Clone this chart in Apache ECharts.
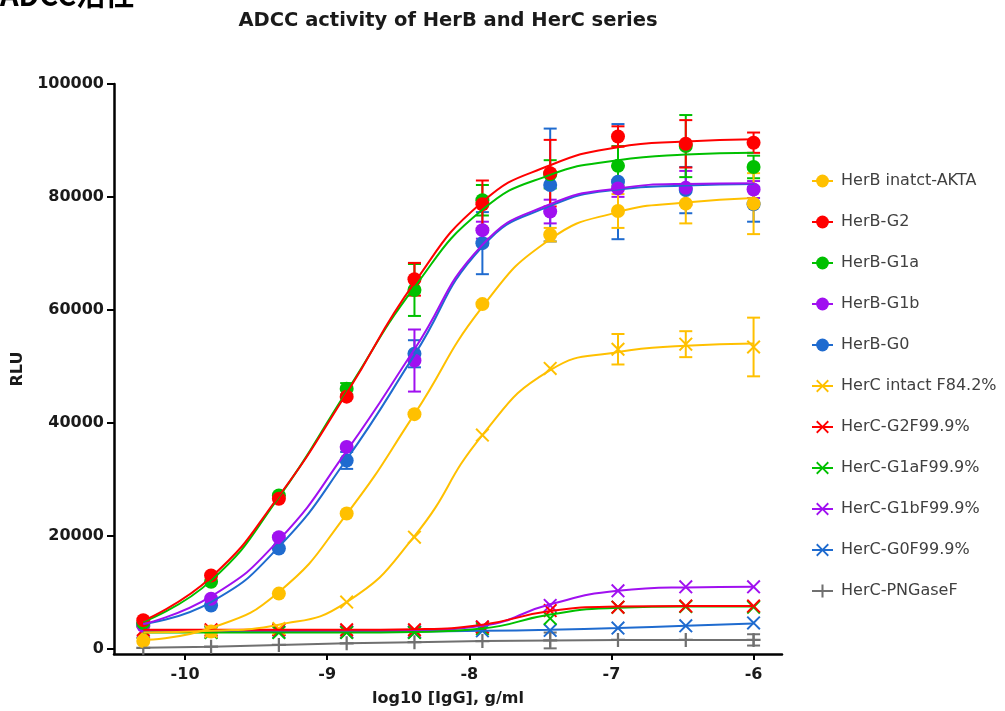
<!DOCTYPE html>
<html>
<head>
<meta charset="utf-8">
<title>ADCC activity of HerB and HerC series</title>
<script src="https://cdn.jsdelivr.net/npm/echarts@6.0.0/dist/echarts.min.js"></script>
<style>
html,body{margin:0;padding:0;background:#fff;}
#main{width:1005px;height:711px;}
</style>
</head>
<body>
<div id="main"></div>
<script>
// log10 of IgG concentration, g/ml (3-fold dilutions)
let logConc = [-10.294, -9.817, -9.340, -8.863, -8.386, -7.908, -7.431, -6.954, -6.477, -6.000];
let xTicks = [-10, -9, -8, -7, -6];
let yTicks = [0, 20000, 40000, 60000, 80000, 100000];

let names = ['HerB inatct-AKTA', 'HerB-G2', 'HerB-G1a', 'HerB-G1b', 'HerB-G0',
    'HerC intact F84.2%', 'HerC-G2F99.9%', 'HerC-G1aF99.9%', 'HerC-G1bF99.9%', 'HerC-G0F99.9%', 'HerC-PNGaseF'];
let colors = ['#FFC000', '#FF0000', '#00C000', '#A010F0', '#1F6BCF',
    '#FFC000', '#FF0000', '#00C000', '#A010F0', '#1F6BCF', '#707070'];
let markers = ['circle', 'circle', 'circle', 'circle', 'circle',
    'cross', 'cross', 'cross', 'cross', 'cross', 'plus'];

// mean RLU
let herbIntact = [1300, 3000, 9700, 23900, 41500, 61000, 73300, 77500, 78800, 78800];
let herbG2     = [5000, 12900, 26500, 44600, 65400, 78700, 84200, 90700, 89400, 89600];
let herbG1a    = [4500, 11800, 27100, 46000, 63500, 79400, 84000, 85500, 89000, 85300];
let herbG1b    = [4000, 8800, 19700, 35700, 51000, 74100, 77400, 81500, 81600, 81300];
let herbG0     = [4300, 7600, 17700, 33300, 52200, 71800, 82100, 82700, 81200, 78700];
let hercIntact = [2800, 3000, 3500, 8200, 19700, 37800, 49600, 53000, 53900, 53400];
let hercG2F    = [3300, 3300, 3300, 3300, 3300, 3800, 6700, 7300, 7500, 7500];
let hercG1aF   = [2800, 2800, 2800, 2800, 2800, 3500, 5300, 7300, 7400, 7300];
let hercG1bF   = [3000, 3000, 3300, 2900, 2900, 3800, 7600, 10200, 10900, 10900];
let hercG0F    = [2900, 2900, 2900, 2900, 2900, 3100, 3200, 3600, 4000, 4500];
let hercPNG    = [100, 300, 600, 900, 1100, 1300, 1400, 1500, 1500, 1500];

// error (SD) of each point, 0 = not drawn
let errHerbIntact = [0, 0, 0, 0, 0, 0, 1200, 3000, 3500, 5400];
let errHerbG2     = [0, 0, 0, 0, 2900, 4200, 5900, 1800, 4200, 1800];
let errHerbG1a    = [0, 0, 0, 1000, 4600, 2700, 2500, 3500, 5500, 2000];
let errHerbG1b    = [0, 0, 0, 0, 5500, 1500, 2100, 1500, 3000, 1500];
let errHerbG0     = [0, 0, 0, 1500, 2400, 5500, 10000, 10200, 4100, 3100];
let errHercIntact = [0, 0, 0, 0, 0, 0, 0, 2700, 2300, 5200];
let errHercPNG    = [0, 0, 0, 0, 0, 0, 1400, 0, 0, 1000];
let noErr         = [0, 0, 0, 0, 0, 0, 0, 0, 0, 0];

// fitted curve read at each concentration
let fitHerbIntact = [1500, 3600, 10000, 23800, 41500, 60500, 72500, 77300, 79000, 79800];
let fitHerbG2     = [4900, 12600, 27000, 45200, 64800, 79100, 85600, 88800, 89800, 90200];
let fitHerbG1a    = [4700, 12000, 26800, 45500, 64000, 77700, 83900, 86500, 87500, 87800];
let fitHerbG1b    = [4300, 9200, 19200, 35000, 53000, 71500, 78700, 81500, 82300, 82400];
let fitHerbG0     = [4300, 8200, 18000, 33500, 52000, 71200, 78400, 81300, 82000, 82300];
let fitHercIntact = [2800, 3100, 4200, 8200, 19900, 37800, 49300, 52500, 53600, 54000];
let fitHercG2F    = [3300, 3300, 3300, 3300, 3400, 4200, 6600, 7400, 7500, 7500];
let fitHercG1aF   = [2800, 2800, 2800, 2800, 2900, 3500, 6000, 7200, 7400, 7400];
let fitHercG1bF   = [3100, 3100, 3100, 3100, 3200, 4000, 7800, 10200, 10800, 10900];
let fitHercG0F    = [2900, 2900, 2900, 2950, 3000, 3100, 3300, 3600, 4000, 4400];

let means = [herbIntact, herbG2, herbG1a, herbG1b, herbG0, hercIntact, hercG2F, hercG1aF, hercG1bF, hercG0F, hercPNG];
let errs = [errHerbIntact, errHerbG2, errHerbG1a, errHerbG1b, errHerbG0, errHercIntact, noErr, noErr, noErr, noErr, errHercPNG];
let fits = [fitHerbIntact, fitHerbG2, fitHerbG1a, fitHerbG1b, fitHerbG0, fitHercIntact, fitHercG2F, fitHercG1aF, fitHercG1bF, fitHercG0F, hercPNG];

let symbolPaths = {
    circle: 'circle',
    cross: 'path://M1,0L5,4L9,0L10,1L6,5L10,9L9,10L5,6L1,10L0,9L4,5L0,1Z',
    plus: 'path://M4.2,0L5.8,0L5.8,4.2L10,4.2L10,5.8L5.8,5.8L5.8,10L4.2,10L4.2,5.8L0,5.8L0,4.2L4.2,4.2Z'
};

let font = '"DejaVu Sans", Verdana, sans-serif';

let myChart = echarts.init(document.getElementById('main'));

let series = [];
// first data set is drawn on top, so push in reverse
for (let i = names.length - 1; i >= 0; i--) {
    let color = colors[i];
    let sym = symbolPaths[markers[i]];
    series.push({
        name: names[i],
        type: 'line',
        data: logConc.map((x, k) => [x, fits[i][k]]),
        smooth: i === 10 ? false : 0.5,
        showSymbol: false,
        symbol: sym,
        symbolSize: 13,
        lineStyle: {color: color, width: 2},
        itemStyle: {color: color},
        silent: true
    });
    series.push({
        name: names[i],
        type: 'custom',
        data: logConc.map((x, k) => [x, means[i][k], errs[i][k]]),
        encode: {x: 0, y: 1},
        silent: true,
        renderItem: function (params, api) {
            let e = api.value(2);
            if (!e) return;
            let top = api.coord([api.value(0), api.value(1) + e]);
            let bot = api.coord([api.value(0), api.value(1) - e]);
            let w = 6.5;
            let style = {stroke: color, lineWidth: 2};
            return {
                type: 'group',
                children: [
                    {type: 'line', shape: {x1: top[0], y1: top[1], x2: bot[0], y2: bot[1]}, style: style},
                    {type: 'line', shape: {x1: top[0] - w, y1: top[1], x2: top[0] + w, y2: top[1]}, style: style},
                    {type: 'line', shape: {x1: bot[0] - w, y1: bot[1], x2: bot[0] + w, y2: bot[1]}, style: style}
                ]
            };
        }
    });
    series.push({
        name: names[i],
        type: 'scatter',
        data: logConc.map((x, k) => [x, means[i][k]]),
        symbol: sym,
        symbolSize: 14,
        itemStyle: {color: color, opacity: 1},
        silent: true
    });
}

myChart.setOption({
    animation: false,
    graphic: [
        {
            type: 'text', x: 0, y: 9,
            style: {text: 'ADCC活性', fill: '#000', font: 'bold 29px "Noto Sans CJK SC", sans-serif', align: 'left', verticalAlign: 'bottom'}
        },
        {
            type: 'text', x: 448, y: 21,
            style: {text: 'ADCC activity of HerB and HerC series', fill: '#1a1a1a', font: 'bold 19.5px ' + font, align: 'center', verticalAlign: 'middle'}
        }
    ],
    grid: {left: 114, right: 223, top: 84, bottom: 57, containLabel: false, outerBoundsMode: 'none'},
    legend: {
        orient: 'vertical',
        left: 806,
        top: 168,
        itemWidth: 21,
        itemHeight: 16,
        itemGap: 25,
        selectedMode: false,
        textStyle: {fontSize: 16, color: '#404040', fontFamily: font, padding: [0, 0, 0, 3]},
        data: names
    },
    xAxis: {
        type: 'value',
        min: -10.5,
        max: -5.8,
        name: 'log10 [IgG], g/ml',
        nameLocation: 'middle',
        nameGap: 37,
        nameTextStyle: {fontSize: 16, fontWeight: 'bold', color: '#1a1a1a', fontFamily: font},
        axisLine: {show: true, onZero: false, lineStyle: {color: '#000', width: 2.5}},
        axisTick: {show: true, customValues: xTicks, length: 6, lineStyle: {color: '#000', width: 2}},
        axisLabel: {customValues: xTicks, fontSize: 16, fontWeight: 'bold', color: '#1a1a1a', fontFamily: font, margin: 13},
        splitLine: {show: false}
    },
    yAxis: {
        type: 'value',
        min: -1000,
        max: 100000,
        name: 'RLU',
        nameLocation: 'middle',
        nameGap: 77,
        nameTextStyle: {fontSize: 16, fontWeight: 'bold', color: '#1a1a1a', fontFamily: font},
        axisLine: {show: true, onZero: false, lineStyle: {color: '#000', width: 2.5}},
        axisTick: {show: true, customValues: yTicks, length: 7, lineStyle: {color: '#000', width: 2}},
        axisLabel: {
            customValues: yTicks, fontSize: 16, fontWeight: 'bold', color: '#1a1a1a', fontFamily: font, margin: 10,
            formatter: function (v) { return String(v); }
        },
        splitLine: {show: false}
    },
    series: series
});
</script>
</body>
</html>
